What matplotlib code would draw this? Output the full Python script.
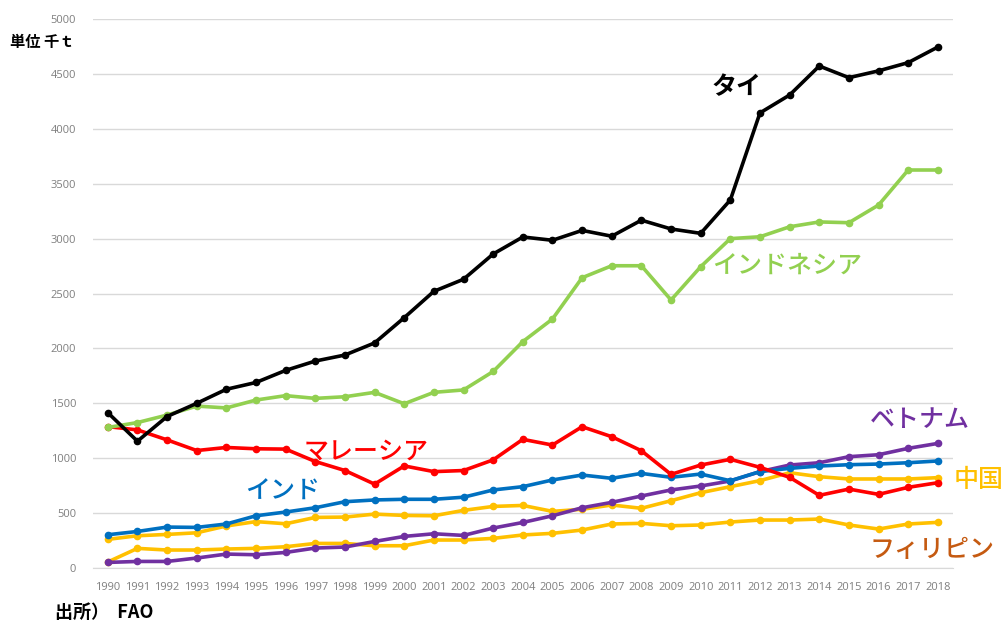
import matplotlib
matplotlib.use("Agg")
import matplotlib.pyplot as plt
from matplotlib import font_manager

plt.rcParams['font.family'] = ['Noto Sans CJK JP', 'DejaVu Sans']

years = list(range(1990, 2019))

thailand = [1415, 1155, 1380, 1500, 1628, 1690, 1800, 1885, 1940, 2050, 2280, 2520, 2630, 2860,
            3015, 2985, 3075, 3022, 3168, 3088, 3048, 3352, 4145, 4308, 4572, 4466, 4528, 4603, 4745]
indonesia = [1280, 1325, 1393, 1475, 1458, 1530, 1570, 1545, 1560, 1600, 1496, 1600, 1622, 1790,
             2062, 2268, 2644, 2753, 2753, 2441, 2744, 3000, 3017, 3108, 3152, 3145, 3306, 3625, 3625]
malaysia = [1288, 1258, 1167, 1070, 1098, 1086, 1083, 970, 888, 764, 930, 878, 888, 985,
            1172, 1120, 1287, 1196, 1068, 853, 938, 990, 917, 826, 662, 719, 671, 735, 777]
india = [303, 333, 373, 370, 401, 476, 510, 549, 604, 620, 626, 626, 645, 711,
         741, 802, 847, 817, 862, 826, 856, 795, 878, 908, 929, 941, 947, 959, 975]
vietnam = [51, 60, 60, 91, 127, 121, 142, 182, 191, 242, 288, 312, 297, 364,
           415, 476, 549, 598, 656, 711, 747, 793, 878, 938, 959, 1014, 1032, 1090, 1135]
china = [261, 294, 306, 321, 383, 423, 403, 461, 464, 491, 479, 476, 525, 561,
         570, 516, 535, 574, 544, 613, 686, 741, 796, 868, 832, 811, 811, 811, 823]
philippines = [55, 179, 164, 164, 173, 179, 194, 224, 224, 203, 203, 255, 255, 270,
               301, 316, 346, 401, 407, 385, 392, 419, 437, 437, 446, 392, 355, 401, 416]

series = [
    ("フィリピン", philippines, "#FFC000"),
    ("中国", china, "#FFC000"),
    ("ベトナム", vietnam, "#7030A0"),
    ("インド", india, "#0070C0"),
    ("マレーシア", malaysia, "#FF0000"),
    ("インドネシア", indonesia, "#92D050"),
    ("タイ", thailand, "#000000"),
]

installed = {f.name for f in font_manager.fontManager.ttflist}
tick_family = 'Liberation Sans Narrow' if 'Liberation Sans Narrow' in installed else 'Open Sans'
tick_size = 9.5 if tick_family == 'Liberation Sans Narrow' else 8

fig = plt.figure(figsize=(10.06, 6.28), dpi=100)
ax = fig.add_axes([0.0924, 0.0955, 0.8546, 0.8742])

for name, vals, col in series:
    ax.plot(years, vals, color=col, lw=2.6, marker='o', ms=4.5, solid_capstyle='round', zorder=3)

ax.set_xlim(1989.5, 2018.5)
ax.set_ylim(0, 5000)
ax.set_yticks(range(0, 5001, 500))
ax.set_xticks(years)
ax.set_xticklabels([str(y) for y in years])
ax.grid(axis='y', color='#D9D9D9', lw=1)
ax.set_axisbelow(True)
for s in ['top', 'right', 'left']:
    ax.spines[s].set_visible(False)
ax.spines['bottom'].set_color('#D9D9D9')
ax.tick_params(axis='both', length=0, labelsize=tick_size, labelcolor='#7F7F7F')
ax.tick_params(axis='x', pad=10)
ax.tick_params(axis='y', pad=12)
for lab in ax.get_xticklabels() + ax.get_yticklabels():
    lab.set_family([tick_family, 'DejaVu Sans'])

labels = [
    ("タイ", 2011.2, 4380, "#000000", 'bold'),
    ("インドネシア", 2012.9, 2750, "#92D050", 'medium'),
    ("マレーシア", 1998.7, 1056, "#FF0000", 'medium'),
    ("インド", 1995.9, 692, "#0070C0", 'medium'),
    ("ベトナム", 2017.4, 1348, "#7030A0", 'medium'),
    ("中国", 2019.36, 801, "#FFC000", 'medium'),
    ("フィリピン", 2017.8, 164, "#C55A11", 'medium'),
]
for txt, x, y, col, w in labels:
    ax.text(x, y, txt, color=col, fontsize=18, fontweight=w, ha='center', va='center',
            clip_on=False, zorder=5)

fig.text(0.01, 0.933, "単位 千ｔ", fontsize=11, fontweight='bold', color='#000000', va='center')
fig.text(0.055, 0.025, "出所）  FAO", fontsize=13, fontweight='bold', color='#000000', va='center')

fig.savefig("out.png", dpi=100)
